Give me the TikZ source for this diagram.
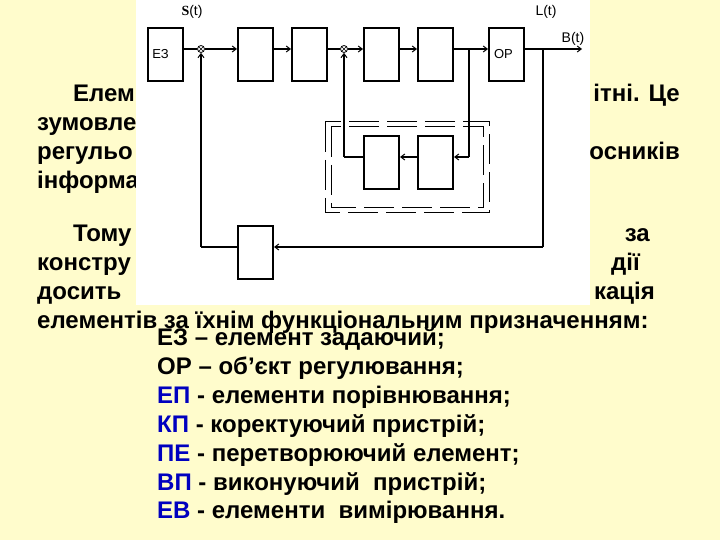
\documentclass[tikz,border=0pt]{standalone}
\usepackage{fontspec}
\setmainfont{Liberation Sans}
\usetikzlibrary{arrows.meta}
\begin{document}
\begin{tikzpicture}[x=1pt,y=-1pt,
  txt/.style={font=\bfseries\fontsize{24}{28}\selectfont,inner sep=0pt,anchor=base west},
  txr/.style={font=\bfseries\fontsize{24}{28}\selectfont,inner sep=0pt,anchor=base east},
  blk/.style={draw,line width=2pt,minimum width=35pt,minimum height=53pt,inner sep=0pt,font=\fontsize{13}{15}\selectfont},
  ln/.style={line width=2.2pt},
  arr/.style={ln,-{Straight Barb[length=4pt,width=6pt,line width=1pt]}},
  sm/.style={circle,draw,fill=white,minimum size=7pt,inner sep=0pt,line width=0.8pt,path picture={\draw[line width=0.6pt] (path picture bounding box.north west)--(path picture bounding box.south east) (path picture bounding box.south west)--(path picture bounding box.north east);}},
  dbl/.style={line width=1pt,dash pattern=on 30pt off 8pt}]
\fill[yellow!20] (0,0) rectangle (720,540);
\useasboundingbox (0,0) rectangle (720,540);
% text paragraphs
\node[txt] (p1) at (73,102) {Елем};
\node[txr] (p1r) at (680,102) {ітні. Це};
\node[txt] (p2) at (37,131) {зумовле};
\node[txt] (p3) at (37,160) {регульо};
\node[txr] (p3r) at (680,160) {осників};
\node[txt] (p4) at (37,189) {інформа};
\node[txt] (q1) at (73,241) {Тому};
\node[txr] (q1r) at (650,241) {за};
\node[txt] (q2) at (37,270) {констру};
\node[txr] (q2r) at (640,270) {дії};
\node[txt] (q3) at (37,299) {досить};
\node[txr] (q3r) at (655,299) {кація};
\node[txt] (q4) at (37,328) {елементів за їхнім функціональним призначенням:};
% white diagram area
\fill[white] (136,0) rectangle (590,305);
% blocks
\node[blk,anchor=north west] (ez) at (147,27) {\hspace*{-10pt}ЕЗ};
\node[blk,anchor=north west] (b2) at (237,27) {};
\node[blk,anchor=north west] (b3) at (291,27) {};
\node[blk,anchor=north west] (b4) at (363,27) {};
\node[blk,anchor=north west] (b5) at (417,27) {};
\node[blk,anchor=north west] (op) at (488,27) {\hspace*{-6pt}ОР};
\node[blk,anchor=north west] (b6) at (363,135) {};
\node[blk,anchor=north west] (b7) at (417,135) {};
\node[blk,anchor=north west] (fb) at (237,225) {};
\node[sm] (s1) at (201,49) {};
\node[sm] (s2) at (344,49) {};
\coordinate (br1) at (469,49);
\coordinate (br2) at (543,49);
\coordinate (out) at (582,49);
\coordinate (c1) at (469,157);
\coordinate (c2) at (344,157);
\coordinate (c3) at (543,247);
\coordinate (c4) at (201,247);
% dashed double frame
\draw[dbl] (325,122) rectangle (489,213);
\draw[dbl] (331,127) rectangle (483,208);
% connectors
\draw[ln] (ez.east|-s1) -- (s1);
\draw[arr] (s1) -- (s1-|b2.west);
\draw[arr] (b2.east|-s1) -- (s1-|b3.west);
\draw[ln] (b3.east|-s2) -- (s2);
\draw[arr] (s2) -- (s2-|b4.west);
\draw[arr] (b4.east|-s2) -- (s2-|b5.west);
\draw[arr] (b5.east|-s2) -- (s2-|op.west);
\draw[arr] (op.east|-out) -- (out);
\draw[ln] (br1) -- (c1);
\draw[arr] (c1) -- (c1-|b7.east);
\draw[arr] (b7.west|-c1) -- (c1-|b6.east);
\draw[ln] (b6.west|-c2) -- (c2);
\draw[arr] (c2) -- (s2);
\draw[ln] (br2) -- (c3);
\draw[arr] (c3) -- (c3-|fb.east);
\draw[ln] (fb.west|-c4) -- (c4);
\draw[arr] (c4) -- (s1);
% labels
\node[font=\fontsize{14}{16}\selectfont] (ls) at (192,12) {\textbf{\fontspec{Liberation Serif}S}(t)};
\node[font=\fontsize{14}{16}\selectfont] (ll) at (546,12) {L(t)};
\node[font=\fontsize{14}{16}\selectfont] (lb) at (573,39) {В(t)};
% legend
\begin{scope}[every node/.style={txt}]
\node (e1) at (157,345) {ЕЗ – елемент задаючий;};
\node (e2) at (157,374) {ОР – об'єкт регулювання;};
\node (e3) at (157,403) {\textcolor{blue!75!black}{ЕП} - елементи порівнювання;};
\node (e4) at (157,432) {\textcolor{blue!75!black}{КП} - коректуючий пристрій;};
\node (e5) at (157,461) {\textcolor{blue!75!black}{ПЕ} - перетворюючий елемент;};
\node (e6) at (157,490) {\textcolor{blue!75!black}{ВП} - виконуючий\ \ пристрій;};
\node (e7) at (157,518) {\textcolor{blue!75!black}{ЕВ} - елементи\ \ вимірювання.};
\end{scope}
\end{tikzpicture}
\end{document}
